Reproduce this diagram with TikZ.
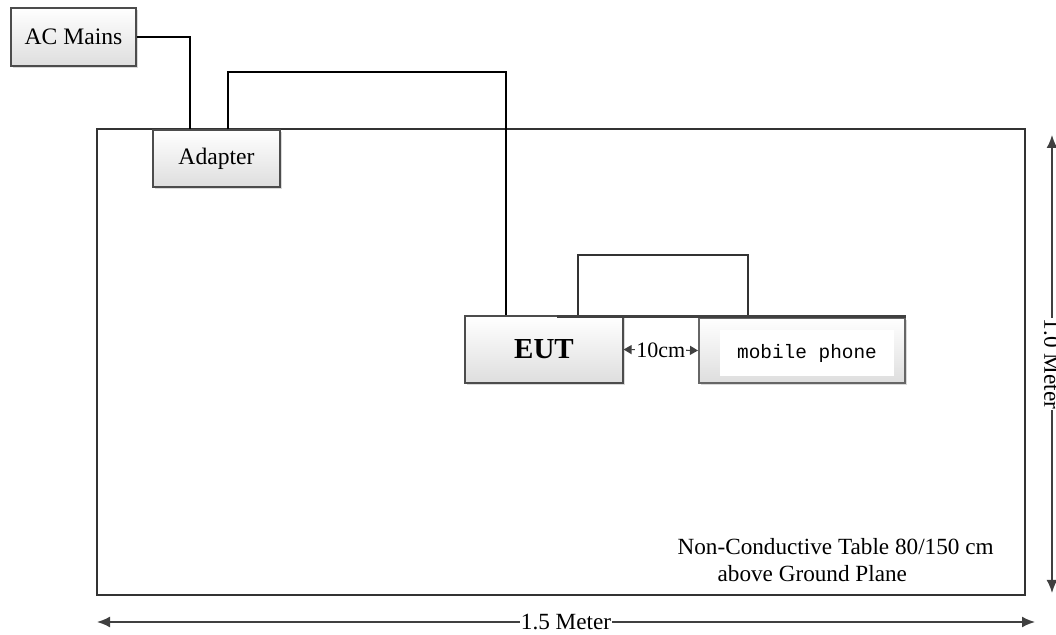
\documentclass[tikz,border=0pt]{standalone}
\usepackage{fontspec}
\setmainfont{Liberation Serif}
\setmonofont{Liberation Mono}
\usetikzlibrary{shadows,arrows.meta}
\begin{document}
\begin{tikzpicture}[x=0.5pt,y=-0.5pt,line width=0.6pt,
box node/.style={rectangle,draw=black!70,top color=white,bottom color=black!13,inner sep=0pt,drop shadow={shadow xshift=1pt,shadow yshift=-1.2pt,opacity=.3}},
dim line/.style={draw=black!75,line width=0.9pt,{Latex[length=6.5pt,width=5.5pt]}-{Latex[length=6.5pt,width=5.5pt]}}]
\useasboundingbox (0,0) rectangle (1056,635);
\node[rectangle,draw=black!80,line width=1.25pt,minimum width=464pt,minimum height=233pt,inner sep=0pt] (table) at (561,362) {};
\begin{scope}[every node/.style={font=\fontsize{11.8}{14}\selectfont}]
\node[box node,minimum width=62.5pt,minimum height=29pt] (ac) at (73.5,37) {AC Mains};
\node[box node,minimum width=63.5pt,minimum height=28.5pt] (adapter) at (216.5,158.5) {Adapter};
\node[box node,minimum width=79pt,minimum height=33.5pt,font=\fontsize{14.5}{16}\selectfont\bfseries] (eut) at (544,349.5) {EUT};
\node[box node,draw=black!60,line width=1pt,minimum width=103pt,minimum height=32.5pt] (phone) at (802,350.5) {};
\node[rectangle,fill=white,minimum width=87pt,minimum height=23pt,font=\fontsize{9.7}{12}\ttfamily] (phonetxt) at (807,353) {mobile phone};
%\node[box node] () at (,) {};
\end{scope}
\coordinate (c0) at (190,37);
\coordinate (c1) at (228,72);
\coordinate (c2) at (506,72);
\coordinate (c3) at (578,255);
\coordinate (c4) at (748,255);
\coordinate (c5) at (557,317);
\begin{scope}
\draw (ac.east) -- (c0) -- (adapter.north -| c0);
\draw (adapter.north -| c1) -- (c1) -- (c2) -- (eut.north -| c2);
\draw[line width=0.9pt,black!80] (eut.north -| c3) |- (c4) -- (phone.north -| c4);
\draw[line width=1.5pt,black!75] (c5) -- (phone.north east);
\draw[black!75,{Triangle[length=4pt,width=4.5pt]}-{Triangle[length=4pt,width=4.5pt]}] (eut.east) -- node[fill=white,text=black,inner sep=0.5pt,font=\fontsize{11}{12}\selectfont]{10cm} (phone.west);
%\draw (c) -- (c);
\end{scope}
\node[anchor=north west,align=left,inner sep=0pt,font=\fontsize{11.6}{13.5}\selectfont] (tablelbl) at (677,538) {Non-Conductive Table 80/150 cm\\\hspace*{20pt}above Ground Plane};
\coordinate (w0) at (97,622);
\coordinate (w1) at (1035,622);
\coordinate (h0) at (1052,135);
\coordinate (h1) at (1052,593);
\draw[dim line] (w0) -- node[fill=white,text=black,inner sep=0.5pt,font=\fontsize{11.6}{13}\selectfont]{1.5 Meter} (w1);
\draw[dim line] (h0) -- node[fill=white,text=black,inner sep=0.5pt,rotate=-90,font=\fontsize{11.6}{13}\selectfont]{1.0 Meter} (h1);
\end{tikzpicture}
\end{document}
